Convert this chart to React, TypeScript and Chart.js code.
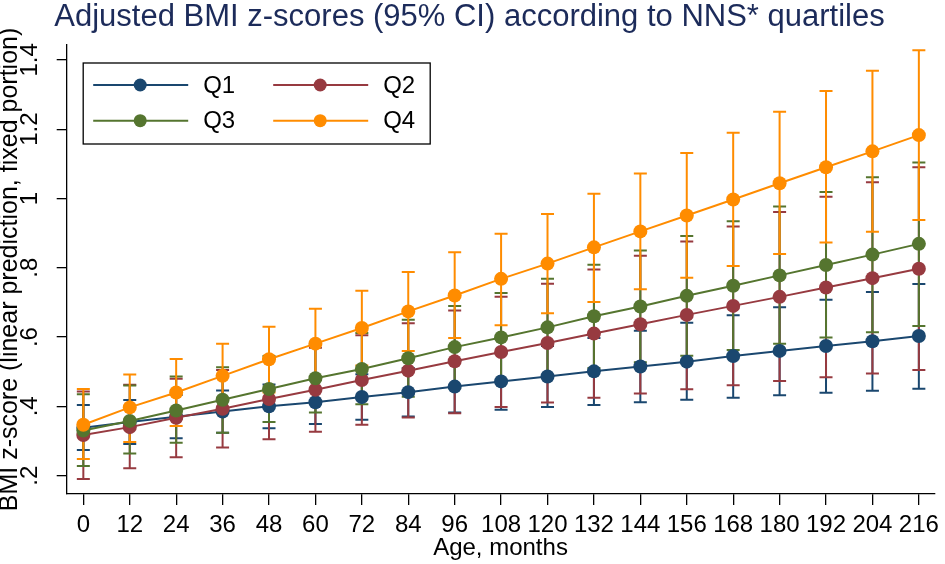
import { useEffect, useRef } from "react";
import { Chart, registerables } from "chart.js";

Chart.register(...registerables);

const ages = [0, 12, 24, 36, 48, 60, 72, 84, 96, 108, 120, 132, 144, 156, 168, 180, 192, 204, 216];

const q1Mean = [0.338, 0.355, 0.370, 0.385, 0.400, 0.412, 0.427, 0.441, 0.457, 0.472, 0.486, 0.501, 0.515, 0.529, 0.545, 0.560, 0.574, 0.588, 0.603];
const q1Lower = [0.274, 0.291, 0.308, 0.324, 0.337, 0.349, 0.361, 0.371, 0.382, 0.390, 0.398, 0.404, 0.412, 0.419, 0.425, 0.432, 0.439, 0.445, 0.451];
const q1Upper = [0.404, 0.418, 0.433, 0.446, 0.463, 0.476, 0.493, 0.511, 0.532, 0.553, 0.574, 0.597, 0.618, 0.641, 0.663, 0.686, 0.708, 0.730, 0.753];

const q2Mean = [0.317, 0.340, 0.367, 0.393, 0.421, 0.448, 0.476, 0.503, 0.530, 0.557, 0.583, 0.610, 0.637, 0.664, 0.690, 0.716, 0.743, 0.770, 0.797];
const q2Lower = [0.190, 0.221, 0.253, 0.281, 0.305, 0.327, 0.347, 0.368, 0.380, 0.398, 0.411, 0.425, 0.437, 0.449, 0.461, 0.473, 0.484, 0.495, 0.505];
const q2Upper = [0.443, 0.462, 0.480, 0.505, 0.537, 0.569, 0.605, 0.640, 0.677, 0.716, 0.754, 0.795, 0.835, 0.876, 0.919, 0.961, 1.005, 1.047, 1.090];

const q3Mean = [0.330, 0.358, 0.388, 0.419, 0.450, 0.481, 0.508, 0.539, 0.571, 0.599, 0.628, 0.660, 0.688, 0.719, 0.748, 0.778, 0.808, 0.838, 0.869];
const q3Lower = [0.228, 0.264, 0.295, 0.324, 0.355, 0.382, 0.406, 0.428, 0.452, 0.471, 0.488, 0.511, 0.527, 0.546, 0.563, 0.581, 0.599, 0.614, 0.632];
const q3Upper = [0.435, 0.460, 0.486, 0.513, 0.545, 0.580, 0.612, 0.650, 0.690, 0.727, 0.768, 0.809, 0.850, 0.892, 0.934, 0.977, 1.019, 1.061, 1.104];

const q4Mean = [0.347, 0.397, 0.440, 0.488, 0.536, 0.581, 0.626, 0.674, 0.720, 0.768, 0.812, 0.859, 0.905, 0.951, 0.997, 1.044, 1.090, 1.136, 1.183];
const q4Lower = [0.248, 0.297, 0.343, 0.395, 0.440, 0.480, 0.518, 0.560, 0.597, 0.634, 0.669, 0.701, 0.738, 0.771, 0.805, 0.840, 0.873, 0.904, 0.938];
const q4Upper = [0.450, 0.492, 0.537, 0.581, 0.630, 0.682, 0.734, 0.788, 0.845, 0.898, 0.955, 1.014, 1.072, 1.131, 1.190, 1.250, 1.310, 1.369, 1.428];

const seriesNames = ["Q1", "Q2", "Q3", "Q4"];
const seriesColors = ["#1a476f", "#973a40", "#55752f", "#ff8c00"];
const seriesMeans = [q1Mean, q2Mean, q3Mean, q4Mean];
const seriesLower = [q1Lower, q2Lower, q3Lower, q4Lower];
const seriesUpper = [q1Upper, q2Upper, q3Upper, q4Upper];

const yTickValues = [0.2, 0.4, 0.6, 0.8, 1.0, 1.2, 1.4];
const chartTitle = "Adjusted BMI z-scores (95% CI) according to NNS* quartiles";
const yAxisTitle = "BMI z-score (linear prediction, fixed portion)";
const xAxisTitle = "Age, months";

const FONT = "'Liberation Sans', Arial, Helvetica, sans-serif";

function formatY(v: number): string {
  const s = String(Number(v.toFixed(1)));
  return s.startsWith("0.") ? s.slice(1) : s;
}

const errorBarPlugin = {
  id: "errorBars",
  beforeDatasetsDraw(chart: any) {
    const { ctx } = chart;
    const xs = chart.scales.x;
    const ys = chart.scales.y;
    ctx.save();
    ctx.lineWidth = 2;
    ctx.lineCap = "butt";
    for (let s = 0; s < seriesNames.length; s++) {
      ctx.strokeStyle = seriesColors[s];
      for (let j = 0; j < ages.length; j++) {
        const px = xs.getPixelForValue(ages[j]);
        const pLo = ys.getPixelForValue(seriesLower[s][j]);
        const pHi = ys.getPixelForValue(seriesUpper[s][j]);
        const cap = 6.5;
        ctx.beginPath();
        ctx.moveTo(px, pLo);
        ctx.lineTo(px, pHi);
        ctx.moveTo(px - cap, pLo);
        ctx.lineTo(px + cap, pLo);
        ctx.moveTo(px - cap, pHi);
        ctx.lineTo(px + cap, pHi);
        ctx.stroke();
      }
    }
    ctx.restore();
  },
};

const legendPlugin = {
  id: "customLegend",
  afterDraw(chart: any) {
    const { ctx, chartArea } = chart;
    const bx = chartArea.left + 16.5;
    const by = chartArea.top + 18;
    const bw = 347;
    const bh = 81;
    ctx.save();
    ctx.fillStyle = "#ffffff";
    ctx.fillRect(bx, by, bw, bh);
    ctx.strokeStyle = "#000000";
    ctx.lineWidth = 1.3;
    ctx.strokeRect(bx, by, bw, bh);
    ctx.font = `24px ${FONT}`;
    ctx.textBaseline = "middle";
    ctx.textAlign = "left";
    for (let s = 0; s < seriesNames.length; s++) {
      const col = s % 2;
      const row = Math.floor(s / 2);
      const ox = bx + col * 180;
      const oy = by + (row === 0 ? 22 : 57.7);
      ctx.strokeStyle = seriesColors[s];
      ctx.lineWidth = 2;
      ctx.beginPath();
      ctx.moveTo(ox + 10, oy);
      ctx.lineTo(ox + 105, oy);
      ctx.stroke();
      ctx.fillStyle = seriesColors[s];
      ctx.beginPath();
      ctx.arc(ox + 57, oy, 6.5, 0, Math.PI * 2);
      ctx.fill();
      ctx.fillStyle = "#000000";
      ctx.fillText(seriesNames[s], ox + 120, oy + 1);
    }
    ctx.restore();
  },
};

export default function App() {
  const canvasRef = useRef<HTMLCanvasElement | null>(null);

  useEffect(() => {
    if (!canvasRef.current) return;
    const datasets = seriesNames.map((name, s) => ({
      label: name,
      data: ages.map((a, j) => ({ x: a, y: seriesMeans[s][j] })),
      borderColor: seriesColors[s],
      backgroundColor: seriesColors[s],
      pointBackgroundColor: seriesColors[s],
      pointBorderWidth: 0,
      pointRadius: 7,
      pointHoverRadius: 7,
      borderWidth: 2,
      tension: 0,
      order: seriesNames.length - s,
    }));

    const chart = new Chart(canvasRef.current, {
      type: "line",
      data: { datasets },
      plugins: [errorBarPlugin, legendPlugin],
      options: {
        animation: false,
        responsive: true,
        maintainAspectRatio: false,
        events: [],
        layout: { padding: { left: 0, right: 6, top: 0, bottom: 0 } },
        plugins: {
          legend: { display: false },
          tooltip: { enabled: false },
          title: {
            display: true,
            text: chartTitle,
            color: "#1c2b5a",
            font: { family: FONT, size: 31, weight: "normal", lineHeight: 1 },
            padding: { top: 2, bottom: 12 },
          },
        },
        scales: {
          x: {
            type: "linear",
            min: -4.3,
            max: 220,
            afterBuildTicks: (scale: any) => {
              scale.ticks = ages.map((v) => ({ value: v }));
            },
            afterFit: (scale: any) => {
              scale.height = 70;
            },
            ticks: {
              autoSkip: false,
              maxRotation: 0,
              minRotation: 0,
              padding: 6,
              color: "#000000",
              font: { family: FONT, size: 24 },
              callback: (v: any) => String(v),
            },
            grid: {
              display: true,
              drawOnChartArea: false,
              drawTicks: true,
              tickLength: 11,
              color: "#000000",
              lineWidth: 1.3,
            },
            border: { display: true, color: "#000000", width: 1.3 },
            title: {
              display: true,
              text: xAxisTitle,
              color: "#000000",
              font: { family: FONT, size: 24, lineHeight: 1 },
              padding: { top: 0, bottom: 4 },
            },
          },
          y: {
            type: "linear",
            min: 0.147,
            max: 1.443,
            afterBuildTicks: (scale: any) => {
              scale.ticks = yTickValues.map((v) => ({ value: v }));
            },
            afterFit: (scale: any) => {
              scale.width = 66.7;
            },
            ticks: {
              autoSkip: false,
              minRotation: 90,
              maxRotation: 90,
              crossAlign: "center",
              padding: 10,
              color: "#000000",
              font: { family: FONT, size: 24 },
              callback: (v: any) => formatY(Number(v)),
            },
            grid: {
              display: true,
              drawOnChartArea: false,
              drawTicks: true,
              tickLength: 10,
              color: "#000000",
              lineWidth: 1.3,
            },
            border: { display: true, color: "#000000", width: 1.3 },
            title: {
              display: true,
              text: yAxisTitle,
              color: "#000000",
              font: { family: FONT, size: 25, lineHeight: 1 },
              padding: { top: -2, bottom: 0 },
            },
          },
        },
      } as any,
    });

    return () => {
      chart.destroy();
    };
  }, []);

  return (
    <div
      style={{
        position: "fixed",
        left: 0,
        top: 0,
        width: 945,
        height: 564,
        background: "#ffffff",
      }}
    >
      <canvas ref={canvasRef} />
    </div>
  );
}
